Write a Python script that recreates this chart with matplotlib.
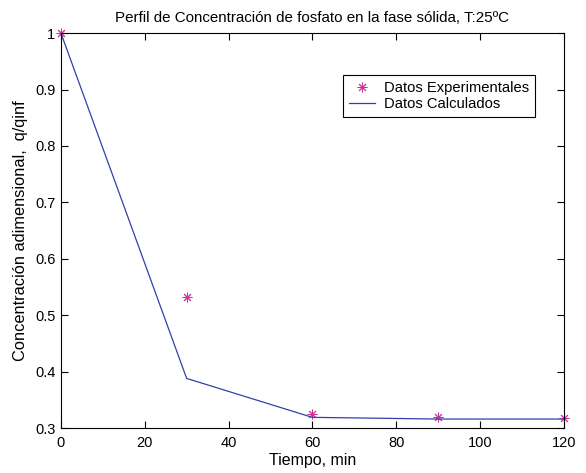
import matplotlib
matplotlib.use("Agg")
import matplotlib.pyplot as plt

plt.rcParams['font.family'] = ['Liberation Sans', 'DejaVu Sans']
plt.rcParams['font.size'] = 10.5

t_exp = [0, 30, 60, 90, 120]
q_exp = [1.0, 0.533, 0.325, 0.319, 0.317]
t_calc = [0, 30, 60, 90, 120]
q_calc = [1.0, 0.388, 0.319, 0.316, 0.316]

fig = plt.figure(figsize=(5.86, 4.73), dpi=100)
ax = fig.add_axes([0.104, 0.095, 0.858, 0.835])

ax.plot(t_exp, q_exp, linestyle='none', marker=(8, 2, 0), markersize=7,
        color='#cc3399', markeredgewidth=0.7, label='Datos Experimentales', clip_on=False)
ax.plot(t_calc, q_calc, color='#3340a8', linewidth=0.9, label='Datos Calculados')

ax.set_xlim(0, 120)
ax.set_ylim(0.3, 1)
ax.set_xticks([0, 20, 40, 60, 80, 100, 120])
ax.set_yticks([0.3, 0.4, 0.5, 0.6, 0.7, 0.8, 0.9, 1.0])
ax.set_yticklabels(['0.3', '0.4', '0.5', '0.6', '0.7', '0.8', '0.9', '1'])
ax.tick_params(direction='in', top=True, right=True, length=5, labelsize=10.5)
ax.tick_params(axis='x', pad=6)
ax.tick_params(axis='y', pad=4)

ax.set_xlabel('Tiempo, min', fontsize=11.5, labelpad=2)
ax.set_ylabel('Concentración adimensional,  q/qinf', fontsize=11.8, labelpad=5)
ax.set_title('Perfil de Concentración de fosfato en la fase sólida, T:25ºC',
             fontsize=10.9, pad=8)

leg = ax.legend(loc='upper right', bbox_to_anchor=(0.943, 0.893), borderaxespad=0,
                fancybox=False, edgecolor='black', framealpha=1, fontsize=10.6,
                handlelength=1.8, handletextpad=0.6, borderpad=0.4, labelspacing=0.1)
leg.get_frame().set_linewidth(0.8)

fig.savefig('out.png', dpi=100)
